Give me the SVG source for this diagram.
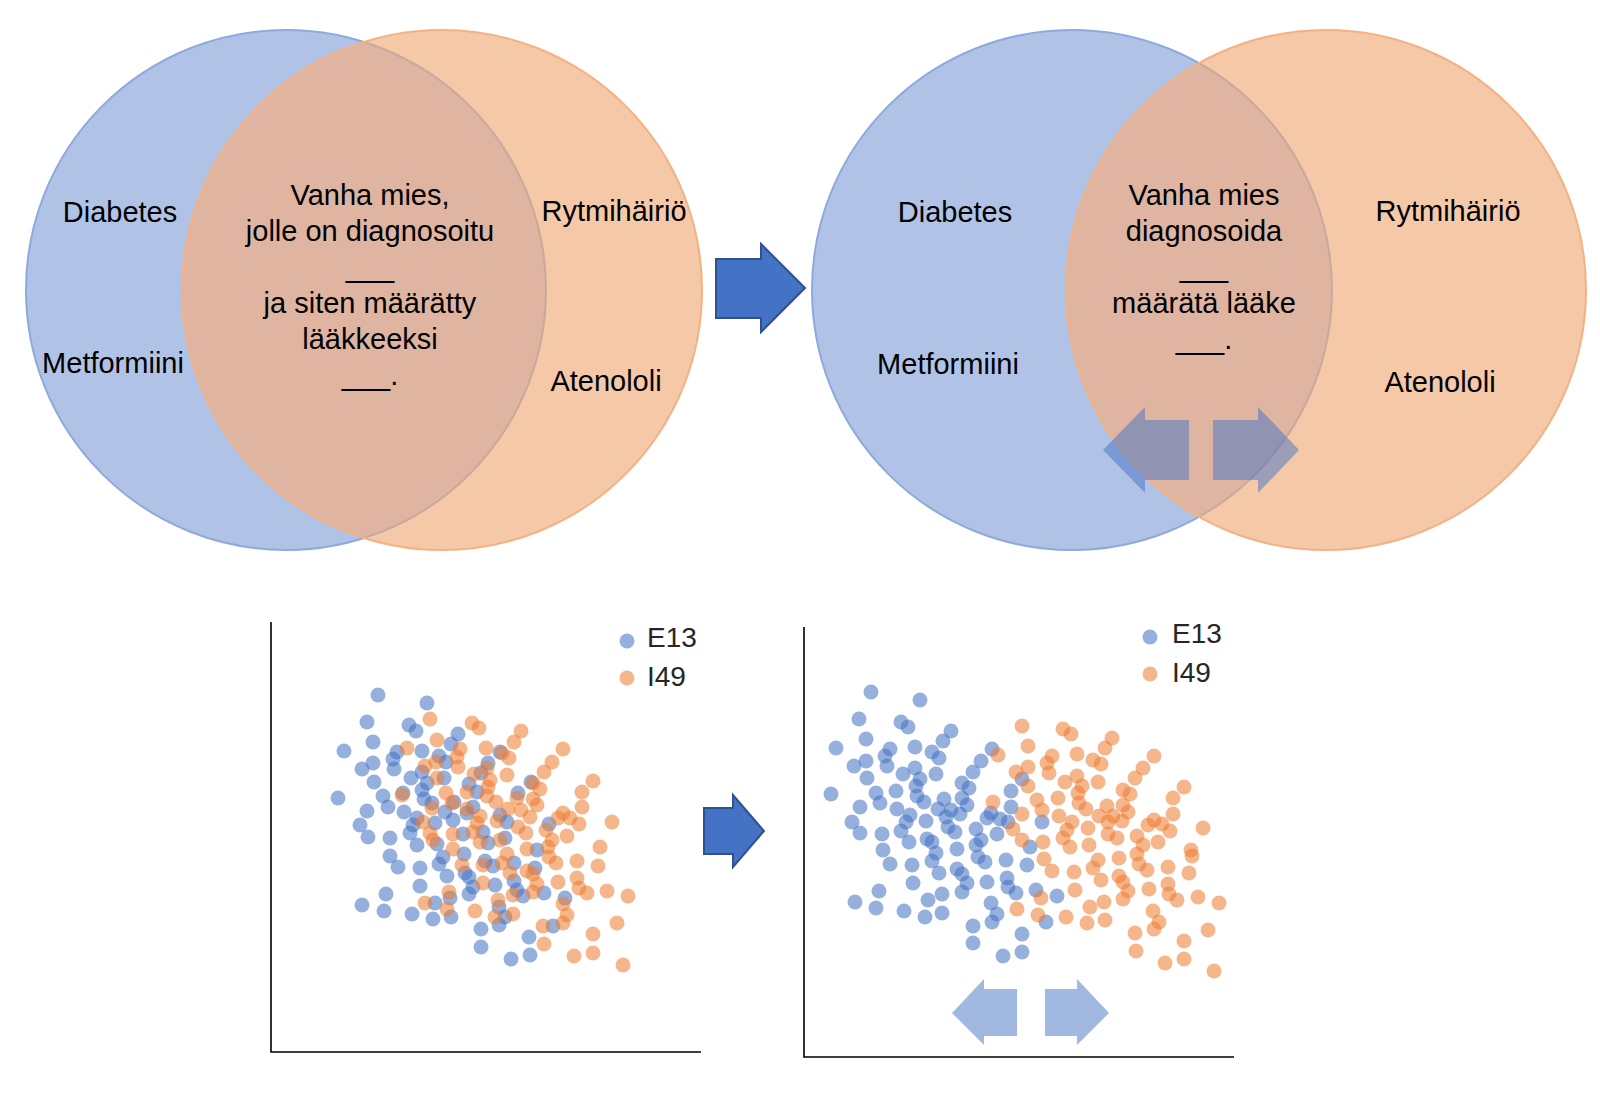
<svg xmlns="http://www.w3.org/2000/svg" width="1600" height="1096" viewBox="0 0 1600 1096">
<defs>
<style>
.t{font-family:"Liberation Sans",Arial,sans-serif;font-size:29px;fill:#000;text-anchor:middle}
.lg{font-family:"Liberation Sans",Arial,sans-serif;font-size:28px;fill:#262626}
.bf{fill:#b0c3e6}
.of{fill:#f5c8a8}
.ov{fill:#dfb4a0}
.bs{fill:none;stroke:#8eaadb;stroke-width:2}
.bf2{fill:none;stroke:#c9a99c;stroke-width:2}
.os{fill:none;stroke:#f4b183;stroke-width:2}
.ax{fill:none;stroke:#000;stroke-width:1.6}
.b circle,.b{fill:#4472c4;fill-opacity:.56}
.o circle,.o{fill:#ed7d31;fill-opacity:.56}
.sa{fill:#4472c4;fill-opacity:.5}
.ba{fill:#4472c4;stroke:#2f528f;stroke-width:2}
</style>
<clipPath id="cl"><circle cx="286" cy="290" r="260"/></clipPath>
<clipPath id="cr"><circle cx="1072" cy="290" r="260"/></clipPath>
<clipPath id="ol"><circle cx="442" cy="290" r="261"/></clipPath>
<clipPath id="or"><circle cx="1326" cy="290" r="261"/></clipPath>
</defs>
<rect width="1600" height="1096" fill="#fff"/>

<g id="venn-left">
<circle class="bf" cx="286" cy="290" r="260"/>
<circle class="bs" cx="286" cy="290" r="260"/>
<circle class="of" cx="442" cy="290" r="260"/>
<circle class="ov" cx="442" cy="290" r="260" clip-path="url(#cl)"/>
<circle class="bf2" cx="286" cy="290" r="260" clip-path="url(#ol)"/>
<circle class="os" cx="442" cy="290" r="260"/>
<text class="t" x="120" y="222">Diabetes</text>
<text class="t" x="113" y="373">Metformiini</text>
<text class="t" x="614" y="221">Rytmihäiriö</text>
<text class="t" x="606" y="391">Atenololi</text>
<text class="t" x="370" y="205">Vanha mies,</text>
<text class="t" x="370" y="241">jolle on diagnosoitu</text>
<text class="t" x="370" y="277">___</text>
<text class="t" x="370" y="313">ja siten määrätty</text>
<text class="t" x="370" y="349">lääkkeeksi</text>
<text class="t" x="370" y="385">___.</text>
</g>

<g id="venn-right">
<circle class="bf" cx="1072" cy="290" r="260"/>
<circle class="bs" cx="1072" cy="290" r="260"/>
<circle class="of" cx="1326" cy="290" r="260"/>
<circle class="ov" cx="1326" cy="290" r="260" clip-path="url(#cr)"/>
<circle class="bf2" cx="1072" cy="290" r="260" clip-path="url(#or)"/>
<circle class="os" cx="1326" cy="290" r="260"/>
<text class="t" x="955" y="222">Diabetes</text>
<text class="t" x="948" y="374">Metformiini</text>
<text class="t" x="1448" y="221">Rytmihäiriö</text>
<text class="t" x="1440" y="392">Atenololi</text>
<text class="t" x="1204" y="205">Vanha mies</text>
<text class="t" x="1204" y="241">diagnosoida</text>
<text class="t" x="1204" y="277">___</text>
<text class="t" x="1204" y="313">määrätä lääke</text>
<text class="t" x="1204" y="349">___.</text>
<polygon class="sa" points="1103,450 1145,407 1145,420 1189,420 1189,480 1145,480 1145,493"/>
<polygon class="sa" points="1213,420 1258,420 1258,407 1299,450 1258,493 1258,480 1213,480"/>
</g>

<g id="scatter-left">
<polyline class="ax" points="271,622 271,1052 701,1052"/>
<circle class="b" cx="627" cy="641" r="7.5"/>
<text class="lg" x="647" y="647">E13</text>
<circle class="o" cx="627" cy="678" r="7.5"/>
<text class="lg" x="647" y="686">I49</text>
<g class="b">
<circle cx="378" cy="695" r="7.5"/><circle cx="427" cy="703" r="7.5"/><circle cx="367" cy="722" r="7.5"/><circle cx="409" cy="725" r="7.5"/><circle cx="416" cy="731" r="7.5"/><circle cx="458" cy="734" r="7.5"/><circle cx="373" cy="742" r="7.5"/><circle cx="344" cy="751" r="7.5"/><circle cx="397" cy="752" r="7.5"/><circle cx="422" cy="751" r="7.5"/><circle cx="451" cy="744" r="7.5"/><circle cx="500" cy="752" r="7.5"/><circle cx="439" cy="756" r="7.5"/><circle cx="393" cy="759" r="7.5"/><circle cx="373" cy="763" r="7.5"/><circle cx="446" cy="762" r="7.5"/><circle cx="362" cy="769" r="7.5"/><circle cx="394" cy="769" r="7.5"/><circle cx="488" cy="763" r="7.5"/><circle cx="422" cy="772" r="7.5"/><circle cx="411" cy="778" r="7.5"/><circle cx="444" cy="778" r="7.5"/><circle cx="481" cy="773" r="7.5"/><circle cx="374" cy="782" r="7.5"/><circle cx="427" cy="783" r="7.5"/><circle cx="531" cy="782" r="7.5"/><circle cx="469" cy="784" r="7.5"/><circle cx="422" cy="790" r="7.5"/><circle cx="477" cy="792" r="7.5"/><circle cx="338" cy="798" r="7.5"/><circle cx="383" cy="796" r="7.5"/><circle cx="403" cy="793" r="7.5"/><circle cx="424" cy="799" r="7.5"/><circle cx="518" cy="793" r="7.5"/><circle cx="432" cy="803" r="7.5"/><circle cx="388" cy="807" r="7.5"/><circle cx="454" cy="802" r="7.5"/><circle cx="473" cy="807" r="7.5"/><circle cx="367" cy="811" r="7.5"/><circle cx="404" cy="812" r="7.5"/><circle cx="445" cy="812" r="7.5"/><circle cx="467" cy="813" r="7.5"/><circle cx="500" cy="815" r="7.5"/><circle cx="417" cy="818" r="7.5"/><circle cx="360" cy="825" r="7.5"/><circle cx="413" cy="825" r="7.5"/><circle cx="435" cy="823" r="7.5"/><circle cx="453" cy="820" r="7.5"/><circle cx="507" cy="822" r="7.5"/><circle cx="549" cy="824" r="7.5"/><circle cx="410" cy="833" r="7.5"/><circle cx="368" cy="837" r="7.5"/><circle cx="390" cy="838" r="7.5"/><circle cx="463" cy="834" r="7.5"/><circle cx="483" cy="832" r="7.5"/><circle cx="505" cy="838" r="7.5"/><circle cx="537" cy="850" r="7.5"/><circle cx="417" cy="845" r="7.5"/><circle cx="437" cy="844" r="7.5"/><circle cx="488" cy="843" r="7.5"/>
<circle cx="390" cy="856" r="7.5"/><circle cx="443" cy="857" r="7.5"/><circle cx="464" cy="854" r="7.5"/><circle cx="398" cy="867" r="7.5"/><circle cx="420" cy="868" r="7.5"/><circle cx="439" cy="864" r="7.5"/><circle cx="485" cy="861" r="7.5"/><circle cx="493" cy="866" r="7.5"/><circle cx="514" cy="863" r="7.5"/><circle cx="535" cy="868" r="7.5"/><circle cx="447" cy="876" r="7.5"/><circle cx="465" cy="873" r="7.5"/><circle cx="469" cy="877" r="7.5"/><circle cx="420" cy="886" r="7.5"/><circle cx="473" cy="887" r="7.5"/><circle cx="495" cy="885" r="7.5"/><circle cx="514" cy="881" r="7.5"/><circle cx="517" cy="890" r="7.5"/><circle cx="523" cy="896" r="7.5"/><circle cx="544" cy="893" r="7.5"/><circle cx="386" cy="894" r="7.5"/><circle cx="450" cy="898" r="7.5"/><circle cx="469" cy="894" r="7.5"/><circle cx="362" cy="905" r="7.5"/><circle cx="384" cy="911" r="7.5"/><circle cx="412" cy="914" r="7.5"/><circle cx="435" cy="903" r="7.5"/><circle cx="451" cy="917" r="7.5"/><circle cx="433" cy="919" r="7.5"/><circle cx="499" cy="907" r="7.5"/><circle cx="505" cy="917" r="7.5"/><circle cx="499" cy="925" r="7.5"/><circle cx="565" cy="898" r="7.5"/><circle cx="553" cy="926" r="7.5"/><circle cx="481" cy="929" r="7.5"/><circle cx="529" cy="937" r="7.5"/><circle cx="481" cy="947" r="7.5"/><circle cx="511" cy="959" r="7.5"/><circle cx="530" cy="955" r="7.5"/>
</g>
<g class="o">
<circle cx="430" cy="719" r="7.5"/><circle cx="472" cy="723" r="7.5"/><circle cx="479" cy="728" r="7.5"/><circle cx="521" cy="731" r="7.5"/><circle cx="437" cy="740" r="7.5"/><circle cx="514" cy="742" r="7.5"/><circle cx="407" cy="748" r="7.5"/><circle cx="460" cy="749" r="7.5"/><circle cx="486" cy="748" r="7.5"/><circle cx="563" cy="749" r="7.5"/><circle cx="457" cy="757" r="7.5"/><circle cx="436" cy="762" r="7.5"/><circle cx="509" cy="758" r="7.5"/><circle cx="502" cy="753" r="7.5"/><circle cx="552" cy="762" r="7.5"/><circle cx="425" cy="766" r="7.5"/><circle cx="458" cy="767" r="7.5"/><circle cx="487" cy="768" r="7.5"/><circle cx="544" cy="772" r="7.5"/><circle cx="474" cy="774" r="7.5"/><circle cx="507" cy="775" r="7.5"/><circle cx="437" cy="778" r="7.5"/><circle cx="490" cy="780" r="7.5"/><circle cx="593" cy="781" r="7.5"/><circle cx="488" cy="787" r="7.5"/><circle cx="533" cy="783" r="7.5"/><circle cx="540" cy="789" r="7.5"/><circle cx="582" cy="792" r="7.5"/><circle cx="446" cy="793" r="7.5"/><circle cx="467" cy="792" r="7.5"/><circle cx="402" cy="795" r="7.5"/><circle cx="487" cy="796" r="7.5"/><circle cx="452" cy="803" r="7.5"/><circle cx="496" cy="802" r="7.5"/><circle cx="517" cy="798" r="7.5"/><circle cx="533" cy="799" r="7.5"/><circle cx="537" cy="805" r="7.5"/><circle cx="582" cy="807" r="7.5"/><circle cx="432" cy="808" r="7.5"/><circle cx="467" cy="809" r="7.5"/><circle cx="508" cy="809" r="7.5"/><circle cx="521" cy="810" r="7.5"/><circle cx="563" cy="813" r="7.5"/><circle cx="530" cy="817" r="7.5"/><circle cx="558" cy="818" r="7.5"/><circle cx="570" cy="818" r="7.5"/><circle cx="612" cy="822" r="7.5"/><circle cx="480" cy="816" r="7.5"/><circle cx="423" cy="822" r="7.5"/><circle cx="477" cy="823" r="7.5"/><circle cx="579" cy="824" r="7.5"/><circle cx="497" cy="821" r="7.5"/><circle cx="518" cy="827" r="7.5"/><circle cx="430" cy="833" r="7.5"/><circle cx="453" cy="834" r="7.5"/><circle cx="526" cy="833" r="7.5"/><circle cx="546" cy="830" r="7.5"/><circle cx="567" cy="836" r="7.5"/><circle cx="473" cy="832" r="7.5"/><circle cx="552" cy="840" r="7.5"/><circle cx="433" cy="840" r="7.5"/><circle cx="500" cy="840" r="7.5"/><circle cx="480" cy="842" r="7.5"/><circle cx="600" cy="847" r="7.5"/><circle cx="453" cy="849" r="7.5"/><circle cx="527" cy="849" r="7.5"/><circle cx="548" cy="847" r="7.5"/>
<circle cx="507" cy="854" r="7.5"/><circle cx="549" cy="857" r="7.5"/><circle cx="462" cy="865" r="7.5"/><circle cx="483" cy="865" r="7.5"/><circle cx="502" cy="863" r="7.5"/><circle cx="556" cy="863" r="7.5"/><circle cx="577" cy="861" r="7.5"/><circle cx="598" cy="866" r="7.5"/><circle cx="510" cy="873" r="7.5"/><circle cx="527" cy="871" r="7.5"/><circle cx="533" cy="874" r="7.5"/><circle cx="483" cy="883" r="7.5"/><circle cx="537" cy="884" r="7.5"/><circle cx="558" cy="882" r="7.5"/><circle cx="577" cy="878" r="7.5"/><circle cx="579" cy="888" r="7.5"/><circle cx="587" cy="893" r="7.5"/><circle cx="607" cy="891" r="7.5"/><circle cx="628" cy="896" r="7.5"/><circle cx="449" cy="892" r="7.5"/><circle cx="533" cy="892" r="7.5"/><circle cx="513" cy="895" r="7.5"/><circle cx="498" cy="900" r="7.5"/><circle cx="425" cy="903" r="7.5"/><circle cx="447" cy="909" r="7.5"/><circle cx="475" cy="911" r="7.5"/><circle cx="513" cy="914" r="7.5"/><circle cx="495" cy="917" r="7.5"/><circle cx="563" cy="904" r="7.5"/><circle cx="567" cy="915" r="7.5"/><circle cx="563" cy="923" r="7.5"/><circle cx="543" cy="926" r="7.5"/><circle cx="617" cy="923" r="7.5"/><circle cx="593" cy="934" r="7.5"/><circle cx="544" cy="944" r="7.5"/><circle cx="574" cy="956" r="7.5"/><circle cx="593" cy="953" r="7.5"/><circle cx="623" cy="965" r="7.5"/>
</g>
</g>

<g id="scatter-right">
<polyline class="ax" points="804,627 804,1057 1234,1057"/>
<circle class="b" cx="1150" cy="637" r="7.5"/>
<text class="lg" x="1172" y="643">E13</text>
<circle class="o" cx="1150" cy="674" r="7.5"/>
<text class="lg" x="1172" y="682">I49</text>
<g class="b">
<circle cx="871" cy="692" r="7.5"/><circle cx="920" cy="700" r="7.5"/><circle cx="859" cy="719" r="7.5"/><circle cx="901" cy="722" r="7.5"/><circle cx="908" cy="727" r="7.5"/><circle cx="951" cy="731" r="7.5"/><circle cx="866" cy="739" r="7.5"/><circle cx="943" cy="741" r="7.5"/><circle cx="836" cy="748" r="7.5"/><circle cx="915" cy="747" r="7.5"/><circle cx="890" cy="749" r="7.5"/><circle cx="932" cy="752" r="7.5"/><circle cx="992" cy="749" r="7.5"/><circle cx="885" cy="756" r="7.5"/><circle cx="866" cy="761" r="7.5"/><circle cx="939" cy="758" r="7.5"/><circle cx="981" cy="761" r="7.5"/><circle cx="854" cy="766" r="7.5"/><circle cx="887" cy="766" r="7.5"/><circle cx="915" cy="768" r="7.5"/><circle cx="973" cy="772" r="7.5"/><circle cx="903" cy="774" r="7.5"/><circle cx="936" cy="774" r="7.5"/><circle cx="867" cy="778" r="7.5"/><circle cx="920" cy="779" r="7.5"/><circle cx="1022" cy="779" r="7.5"/><circle cx="962" cy="783" r="7.5"/><circle cx="916" cy="786" r="7.5"/><circle cx="969" cy="788" r="7.5"/><circle cx="896" cy="791" r="7.5"/><circle cx="876" cy="793" r="7.5"/><circle cx="1011" cy="791" r="7.5"/><circle cx="831" cy="794" r="7.5"/><circle cx="917" cy="796" r="7.5"/><circle cx="962" cy="798" r="7.5"/><circle cx="944" cy="799" r="7.5"/><circle cx="924" cy="802" r="7.5"/><circle cx="880" cy="803" r="7.5"/><circle cx="967" cy="805" r="7.5"/><circle cx="860" cy="807" r="7.5"/><circle cx="1011" cy="807" r="7.5"/><circle cx="938" cy="809" r="7.5"/><circle cx="897" cy="809" r="7.5"/><circle cx="951" cy="810" r="7.5"/><circle cx="960" cy="814" r="7.5"/><circle cx="991" cy="813" r="7.5"/><circle cx="910" cy="815" r="7.5"/><circle cx="946" cy="817" r="7.5"/><circle cx="987" cy="818" r="7.5"/><circle cx="852" cy="822" r="7.5"/><circle cx="906" cy="822" r="7.5"/><circle cx="926" cy="821" r="7.5"/><circle cx="1000" cy="819" r="7.5"/><circle cx="1042" cy="822" r="7.5"/><circle cx="948" cy="827" r="7.5"/><circle cx="1008" cy="822" r="7.5"/><circle cx="976" cy="829" r="7.5"/><circle cx="955" cy="832" r="7.5"/><circle cx="860" cy="833" r="7.5"/><circle cx="882" cy="834" r="7.5"/><circle cx="901" cy="831" r="7.5"/><circle cx="997" cy="834" r="7.5"/><circle cx="927" cy="839" r="7.5"/><circle cx="909" cy="842" r="7.5"/><circle cx="932" cy="842" r="7.5"/><circle cx="981" cy="840" r="7.5"/><circle cx="976" cy="845" r="7.5"/><circle cx="883" cy="850" r="7.5"/><circle cx="957" cy="849" r="7.5"/><circle cx="1030" cy="847" r="7.5"/>
<circle cx="890" cy="864" r="7.5"/><circle cx="936" cy="853" r="7.5"/><circle cx="932" cy="861" r="7.5"/><circle cx="912" cy="865" r="7.5"/><circle cx="978" cy="857" r="7.5"/><circle cx="985" cy="862" r="7.5"/><circle cx="1006" cy="860" r="7.5"/><circle cx="1027" cy="865" r="7.5"/><circle cx="939" cy="873" r="7.5"/><circle cx="957" cy="869" r="7.5"/><circle cx="962" cy="874" r="7.5"/><circle cx="913" cy="883" r="7.5"/><circle cx="987" cy="882" r="7.5"/><circle cx="1007" cy="878" r="7.5"/><circle cx="967" cy="883" r="7.5"/><circle cx="1008" cy="887" r="7.5"/><circle cx="879" cy="891" r="7.5"/><circle cx="962" cy="892" r="7.5"/><circle cx="1016" cy="893" r="7.5"/><circle cx="1036" cy="890" r="7.5"/><circle cx="1057" cy="896" r="7.5"/><circle cx="942" cy="894" r="7.5"/><circle cx="928" cy="900" r="7.5"/><circle cx="855" cy="902" r="7.5"/><circle cx="991" cy="903" r="7.5"/><circle cx="876" cy="908" r="7.5"/><circle cx="904" cy="911" r="7.5"/><circle cx="942" cy="913" r="7.5"/><circle cx="925" cy="917" r="7.5"/><circle cx="997" cy="914" r="7.5"/><circle cx="992" cy="922" r="7.5"/><circle cx="1046" cy="922" r="7.5"/><circle cx="973" cy="926" r="7.5"/><circle cx="1022" cy="934" r="7.5"/><circle cx="973" cy="943" r="7.5"/><circle cx="1022" cy="952" r="7.5"/><circle cx="1003" cy="956" r="7.5"/>
</g>
<g class="o">
<circle cx="1022" cy="726" r="7.5"/><circle cx="1063" cy="729" r="7.5"/><circle cx="1071" cy="734" r="7.5"/><circle cx="1112" cy="738" r="7.5"/><circle cx="1028" cy="746" r="7.5"/><circle cx="1105" cy="748" r="7.5"/><circle cx="998" cy="755" r="7.5"/><circle cx="1077" cy="754" r="7.5"/><circle cx="1052" cy="756" r="7.5"/><circle cx="1154" cy="756" r="7.5"/><circle cx="1093" cy="760" r="7.5"/><circle cx="1047" cy="763" r="7.5"/><circle cx="1101" cy="764" r="7.5"/><circle cx="1028" cy="767" r="7.5"/><circle cx="1143" cy="768" r="7.5"/><circle cx="1016" cy="772" r="7.5"/><circle cx="1049" cy="773" r="7.5"/><circle cx="1077" cy="776" r="7.5"/><circle cx="1135" cy="778" r="7.5"/><circle cx="1065" cy="782" r="7.5"/><circle cx="1098" cy="782" r="7.5"/><circle cx="1028" cy="786" r="7.5"/><circle cx="1082" cy="786" r="7.5"/><circle cx="1184" cy="787" r="7.5"/><circle cx="1123" cy="790" r="7.5"/><circle cx="1078" cy="793" r="7.5"/><circle cx="1130" cy="794" r="7.5"/><circle cx="1058" cy="798" r="7.5"/><circle cx="1173" cy="798" r="7.5"/><circle cx="1037" cy="800" r="7.5"/><circle cx="993" cy="802" r="7.5"/><circle cx="1079" cy="803" r="7.5"/><circle cx="1123" cy="805" r="7.5"/><circle cx="1107" cy="806" r="7.5"/><circle cx="1042" cy="810" r="7.5"/><circle cx="1086" cy="809" r="7.5"/><circle cx="1128" cy="812" r="7.5"/><circle cx="1022" cy="814" r="7.5"/><circle cx="1059" cy="816" r="7.5"/><circle cx="1099" cy="816" r="7.5"/><circle cx="1113" cy="816" r="7.5"/><circle cx="1173" cy="814" r="7.5"/><circle cx="1072" cy="822" r="7.5"/><circle cx="1108" cy="822" r="7.5"/><circle cx="1122" cy="821" r="7.5"/><circle cx="1154" cy="820" r="7.5"/><circle cx="1148" cy="825" r="7.5"/><circle cx="1162" cy="824" r="7.5"/><circle cx="1067" cy="830" r="7.5"/><circle cx="1088" cy="828" r="7.5"/><circle cx="1013" cy="829" r="7.5"/><circle cx="1170" cy="831" r="7.5"/><circle cx="1203" cy="828" r="7.5"/><circle cx="1108" cy="834" r="7.5"/><circle cx="1063" cy="838" r="7.5"/><circle cx="1137" cy="836" r="7.5"/><circle cx="1117" cy="838" r="7.5"/><circle cx="1022" cy="840" r="7.5"/><circle cx="1043" cy="842" r="7.5"/><circle cx="1158" cy="842" r="7.5"/><circle cx="1143" cy="845" r="7.5"/><circle cx="1070" cy="847" r="7.5"/><circle cx="1089" cy="845" r="7.5"/><circle cx="1191" cy="850" r="7.5"/>
<circle cx="1137" cy="854" r="7.5"/><circle cx="1192" cy="856" r="7.5"/><circle cx="1044" cy="859" r="7.5"/><circle cx="1098" cy="860" r="7.5"/><circle cx="1119" cy="858" r="7.5"/><circle cx="1139" cy="864" r="7.5"/><circle cx="1168" cy="867" r="7.5"/><circle cx="1093" cy="868" r="7.5"/><circle cx="1052" cy="871" r="7.5"/><circle cx="1074" cy="872" r="7.5"/><circle cx="1147" cy="870" r="7.5"/><circle cx="1189" cy="873" r="7.5"/><circle cx="1101" cy="880" r="7.5"/><circle cx="1119" cy="876" r="7.5"/><circle cx="1123" cy="882" r="7.5"/><circle cx="1168" cy="884" r="7.5"/><circle cx="1075" cy="890" r="7.5"/><circle cx="1128" cy="891" r="7.5"/><circle cx="1149" cy="889" r="7.5"/><circle cx="1169" cy="894" r="7.5"/><circle cx="1177" cy="900" r="7.5"/><circle cx="1041" cy="898" r="7.5"/><circle cx="1123" cy="899" r="7.5"/><circle cx="1198" cy="897" r="7.5"/><circle cx="1219" cy="903" r="7.5"/><circle cx="1104" cy="902" r="7.5"/><circle cx="1090" cy="907" r="7.5"/><circle cx="1017" cy="909" r="7.5"/><circle cx="1038" cy="915" r="7.5"/><circle cx="1066" cy="917" r="7.5"/><circle cx="1087" cy="923" r="7.5"/><circle cx="1105" cy="920" r="7.5"/><circle cx="1153" cy="911" r="7.5"/><circle cx="1159" cy="922" r="7.5"/><circle cx="1154" cy="929" r="7.5"/><circle cx="1135" cy="933" r="7.5"/><circle cx="1208" cy="930" r="7.5"/><circle cx="1184" cy="941" r="7.5"/><circle cx="1136" cy="951" r="7.5"/><circle cx="1184" cy="959" r="7.5"/><circle cx="1165" cy="963" r="7.5"/><circle cx="1214" cy="971" r="7.5"/>
</g>
<polygon class="sa" points="952,1013 984,979 984,989 1017,989 1017,1036 984,1036 984,1045"/>
<polygon class="sa" points="1045,989 1077,989 1077,979 1109,1013 1077,1045 1077,1036 1045,1036"/>
</g>

<g id="connectors">
<polygon class="ba" points="716,259 761,259 761,244 805,288 761,332 761,318 716,318"/>
<polygon class="ba" points="704,808 733,808 733,795 764,831 733,867 733,854 704,854"/>
</g>
</svg>
